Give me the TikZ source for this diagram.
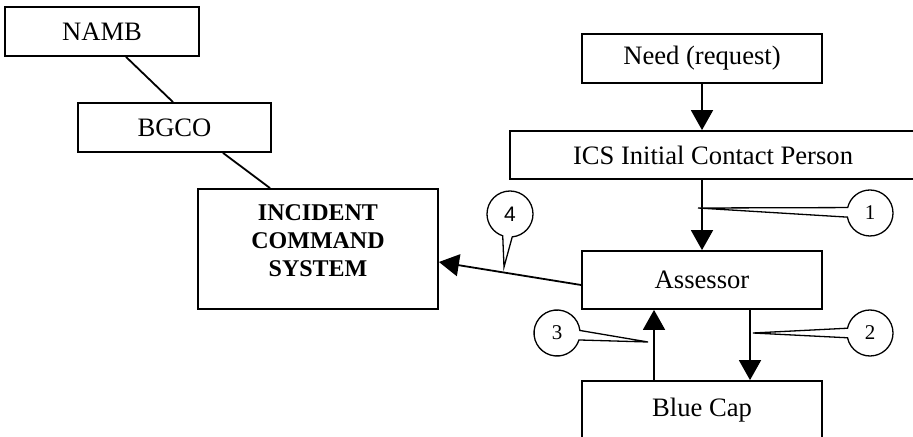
\documentclass[tikz,border=0pt]{standalone}
\usepackage{fontspec}
\setmainfont{Liberation Serif}
\newfontfamily\numsans{Liberation Sans}
\usetikzlibrary{positioning,calc,arrows.meta,shapes.callouts}

\begin{document}
\begin{tikzpicture}[
    x=0.5pt, y=-0.5pt,
    unitbox/.style={draw, line width=0.9pt, inner sep=0pt, minimum width=120pt, minimum height=24.5pt, font=\fontsize{13.3}{15}\selectfont},
    boldtxt/.style={align=center, inner sep=0pt, font=\fontsize{12}{14}\selectfont\bfseries},
    link/.style={line width=0.9pt},
    flow/.style={-{Triangle[width=11pt, length=10pt]}, line width=0.9pt},
    bubble/.style={ellipse callout, draw, fill=white, line width=0.65pt, inner sep=0pt, minimum width=23pt, minimum height=23pt, callout pointer arc=24, font=\fontsize{10.5}{12}\selectfont},
]
\useasboundingbox (0,0) rectangle (913,437);
% left column
\node[unitbox, minimum width=97pt] (namb) at (102,31.5) {NAMB};
\node[unitbox, minimum width=96.5pt] (bgco) at (174.5,127.5) {BGCO};
\node[unitbox, minimum height=60pt] (ics) at (318,249) {};
\node[boldtxt] (icstxt) at (318,241) {INCIDENT\\COMMAND\\SYSTEM};
\draw[link] ($(namb.south)+(24,0)$) -- ($(bgco.north)+(-1.5,0)$);
\draw[link] ($(bgco.south)+(48.5,0)$) -- ($(ics.north)+(-48,0)$);
% right column
\node[unitbox] (need) at (702,58.5) {Need (request)};
\node[unitbox, minimum width=203pt, minimum height=24pt] (initial) at (713,155) {ICS Initial Contact Person};
\node[unitbox, minimum height=29pt] (assessor) at (702,280) {Assessor};
\node[unitbox, minimum height=29pt] (bluecap) at (702,410) {Blue Cap};
\draw[flow] (need.south) -- (need.south |- initial.north);
\draw[flow] (assessor.north |- initial.south) -- (assessor.north);
\draw[flow] ($(assessor.west)+(0,5)$) -- ($(ics.east)+(0,13)$);
\draw[flow] ($(assessor.south)+(48,0)$) -- ($(bluecap.north)+(48,0)$);
\draw[flow] ($(bluecap.north)+(-48,0)$) -- ($(assessor.south)+(-48,0)$);
% numbered callouts
\coordinate (tip1) at (698,208);
\coordinate (tip2) at (753,333);
\coordinate (tip3) at (648,342);
\coordinate (tip4) at (504,267);
\node[bubble, callout absolute pointer={(tip1)}] (c1) at (870,213) {1};
\node[bubble, callout absolute pointer={(tip2)}] (c2) at (870,333) {2};
\node[bubble, callout absolute pointer={(tip3)}] (c3) at (557,333) {3};
\node[bubble, callout absolute pointer={(tip4)}, font=\fontsize{10.5}{12}\selectfont\numsans] (c4) at (510,214) {4};
\end{tikzpicture}
\end{document}
